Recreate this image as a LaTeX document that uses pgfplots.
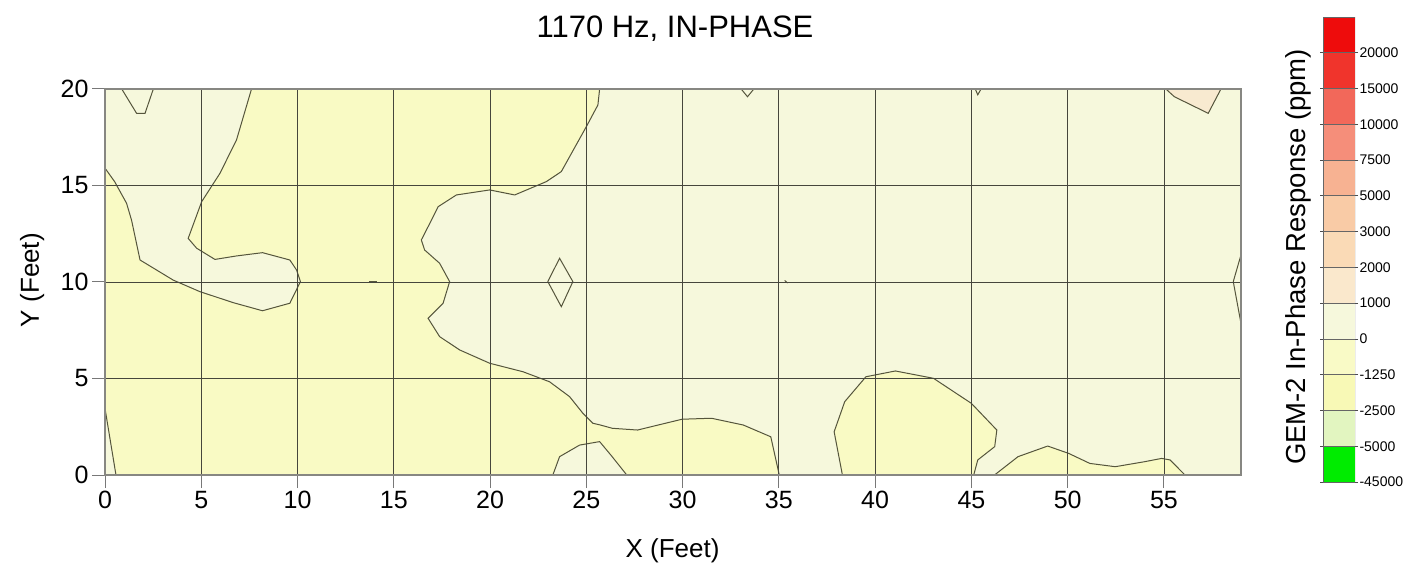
\documentclass[border=0pt]{standalone}
\usepackage{pgfplots}
\pgfplotsset{compat=1.18}
\usepackage{fontspec}
\setmainfont{Liberation Sans}
\definecolor{paleC}{RGB}{246,248,220}
\definecolor{yelC}{RGB}{249,250,196}
\definecolor{orgC}{RGB}{248,234,208}
\definecolor{gridC}{RGB}{70,70,60}
\definecolor{contC}{RGB}{85,85,60}
\definecolor{cb1}{RGB}{0,236,0}
\definecolor{cb2}{RGB}{226,245,192}
\definecolor{cb3}{RGB}{248,249,182}
\definecolor{cb4}{RGB}{249,250,198}
\definecolor{cb5}{RGB}{246,248,220}
\definecolor{cb6}{RGB}{250,232,204}
\definecolor{cb7}{RGB}{250,218,182}
\definecolor{cb8}{RGB}{249,203,166}
\definecolor{cb9}{RGB}{247,178,146}
\definecolor{cb10}{RGB}{245,142,122}
\definecolor{cb11}{RGB}{242,104,90}
\definecolor{cb12}{RGB}{240,52,44}
\definecolor{cb13}{RGB}{238,12,12}
\pgfplotsset{contour/.style={draw=contC, line width=1pt}}
\begin{document}
\begin{tikzpicture}[x=1pt,y=1pt]
\useasboundingbox (0,0) rectangle (1421,581);
\begin{axis}[
  at={(105pt,106pt)}, anchor=south west,
  scale only axis, width=1136pt, height=386pt,
  xmin=0, xmax=59, ymin=0, ymax=20,
  xtick={0,5,...,55}, ytick={0,5,...,20},
  grid=major, major grid style={draw=gridC, line width=0.9pt},
  axis line style={draw={rgb,255:red,135;green,135;blue,130}, line width=1.6pt},
  tick align=outside, major tick length=13pt, tick pos=left,
  tick style={draw={rgb,255:red,120;green,120;blue,120}, line width=1pt},
  axis on top,
  axis background/.style={fill=paleC},
  /pgf/number format/assume math mode=true,
  tick label style={font=\fontsize{25}{30}\selectfont},
  title={1170 Hz, IN-PHASE},
  title style={font=\fontsize{31}{36}\selectfont, at={(axis description cs:0.5018,1.1184)}, anchor=base},
  xlabel={X (Feet)},
  xlabel style={font=\fontsize{26}{31}\selectfont, at={(axis description cs:0.4996,-0.215)}, anchor=base},
  ylabel={Y (Feet)},
  ylabel style={font=\fontsize{26}{31}\selectfont, at={(axis description cs:-0.0581,0.505)}, anchor=base, rotate=0},
]
% yellow region (-1250 to 0 ppm)
\addplot[fill=yelC, draw=none] coordinates {
 (7.61,20) (25.69,20) (25.6,19.17) (25.0,18.05) (23.7,15.72) (22.92,15.2) (21.28,14.51) (19.98,14.77) (18.25,14.51) (17.3,13.9) (16.87,13.04) (16.43,12.18) (16.6,11.66) (17.38,10.97) (17.9,10.02) (17.56,8.9) (16.78,8.12) (17.38,7.17) (18.42,6.48) (19.98,5.79) (21.71,5.35) (23.09,4.83) (24.13,4.06) (24.82,3.2) (25.34,2.68) (25.69,2.6) (26.35,2.42) (27.66,2.33) (29.97,2.89) (31.5,2.94) (33.15,2.59) (34.58,1.98) (35.02,0)
 (0.57,0) (0,3.45) (0,15.9)
 (0.5,15.2) (1.12,14.08) (1.38,13.2) (1.82,11.14) (3.54,10.1) (4.93,9.5) (6.66,8.93) (8.18,8.51) (9.6,8.9) (10.15,10.02) (9.95,10.62) (9.6,11.14) (8.18,11.52) (6.83,11.35) (5.71,11.17) (4.76,11.75) (4.32,12.26) (5.02,14.16) (5.97,15.63) (6.83,17.36)
} -- cycle;
% pale island F
\addplot[fill=paleC, draw=none] coordinates {(23.26,0) (23.61,0.95) (24.65,1.55) (25.69,1.73) (26.3,1.0) (27.1,0)} -- cycle;
% yellow islands K, L
\addplot[fill=yelC, draw=none] coordinates {(38.3,0) (37.87,2.24) (38.42,3.8) (39.52,5.09) (41.05,5.39) (43.03,5.01) (45.0,3.71) (46.32,2.33) (46.21,1.47) (45.33,0.78) (45.12,0)} -- cycle;
\addplot[fill=yelC, draw=none] coordinates {(46.2,0) (47.42,0.95) (48.96,1.5) (50.05,1.12) (51.15,0.6) (52.47,0.43) (54.0,0.69) (54.88,0.86) (55.32,0.78) (56.09,0)} -- cycle;
% orange patch I
\addplot[fill=orgC, draw=none] coordinates {(55.1,20) (55.54,19.6) (57.3,18.74) (57.96,20)} -- cycle;
% contour lines
\addplot[contour] coordinates {(0.87,20) (1.64,18.74) (2.08,18.74) (2.51,20)};
\addplot[contour] coordinates {(0,15.9) (0.5,15.2) (1.12,14.08) (1.38,13.2) (1.82,11.14) (3.54,10.1) (4.93,9.5) (6.66,8.93) (8.18,8.51) (9.6,8.9) (10.15,10.02) (9.95,10.62) (9.6,11.14) (8.18,11.52) (6.83,11.35) (5.71,11.17) (4.76,11.75) (4.32,12.26) (5.02,14.16) (5.97,15.63) (6.83,17.36) (7.61,20)};
\addplot[contour] coordinates {(0,3.45) (0.57,0)};
\addplot[contour] coordinates {(25.69,20) (25.6,19.17) (25.0,18.05) (23.7,15.72) (22.92,15.2) (21.28,14.51) (19.98,14.77) (18.25,14.51) (17.3,13.9) (16.87,13.04) (16.43,12.18) (16.6,11.66) (17.38,10.97) (17.9,10.02) (17.56,8.9) (16.78,8.12) (17.38,7.17) (18.42,6.48) (19.98,5.79) (21.71,5.35) (23.09,4.83) (24.13,4.06) (24.82,3.2) (25.34,2.68) (25.69,2.6) (26.35,2.42) (27.66,2.33) (29.97,2.89) (31.5,2.94) (33.15,2.59) (34.58,1.98) (35.02,0)};
\addplot[contour] coordinates {(23.61,11.23) (24.3,10.02) (23.7,8.72) (23.0,10.02)} -- cycle;
\addplot[contour] coordinates {(23.26,0) (23.61,0.95) (24.65,1.55) (25.69,1.73) (26.3,1.0) (27.1,0)};
\addplot[contour] coordinates {(33.04,20) (33.37,19.6) (33.7,20)};
\addplot[contour] coordinates {(45.2,20) (45.33,19.7) (45.5,20)};
\addplot[contour] coordinates {(38.3,0) (37.87,2.24) (38.42,3.8) (39.52,5.09) (41.05,5.39) (43.03,5.01) (45.0,3.71) (46.32,2.33) (46.21,1.47) (45.33,0.78) (45.12,0)};
\addplot[contour] coordinates {(46.2,0) (47.42,0.95) (48.96,1.5) (50.05,1.12) (51.15,0.6) (52.47,0.43) (54.0,0.69) (54.88,0.86) (55.32,0.78) (56.09,0)};
\addplot[contour] coordinates {(55.1,20) (55.54,19.6) (57.3,18.74) (57.96,20)};
\addplot[contour] coordinates {(59,11.4) (58.6,10.02) (59,7.86)};
\addplot[contour] coordinates {(13.7,10.0) (14.15,10.0)};
\addplot[contour] coordinates {(35.3,10.08) (35.45,9.95)};
\end{axis}
\begin{axis}[
  at={(1323pt,99pt)}, anchor=south west,
  scale only axis, width=32pt, height=465pt,
  xmin=0, xmax=1, ymin=0, ymax=13,
  xtick=\empty, ytick={0,1,...,12},
  yticklabels={-45000,-5000,-2500,-1250,0,1000,2000,3000,5000,7500,10000,15000,20000},
  yticklabel pos=right,
  major tick length=3pt, tick align=outside,
  tick style={draw=black!70, line width=0.8pt},
  axis line style={draw=none},
  yticklabel style={font=\fontsize{14}{17}\selectfont, anchor=west, xshift=-2pt},
  ylabel={GEM-2 In-Phase Response (ppm)},
  ylabel style={font=\fontsize{27.5}{32}\selectfont, at={(axis description cs:-0.55,0.484)}, anchor=base},
]
\addplot[fill=cb1, draw=black!60, line width=0.8pt] coordinates {(0,0) (1,0) (1,1) (0,1)} -- cycle;
\addplot[fill=cb2, draw=black!60, line width=0.8pt] coordinates {(0,1) (1,1) (1,2) (0,2)} -- cycle;
\addplot[fill=cb3, draw=black!60, line width=0.8pt] coordinates {(0,2) (1,2) (1,3) (0,3)} -- cycle;
\addplot[fill=cb4, draw=black!60, line width=0.8pt] coordinates {(0,3) (1,3) (1,4) (0,4)} -- cycle;
\addplot[fill=cb5, draw=black!60, line width=0.8pt] coordinates {(0,4) (1,4) (1,5) (0,5)} -- cycle;
\addplot[fill=cb6, draw=black!60, line width=0.8pt] coordinates {(0,5) (1,5) (1,6) (0,6)} -- cycle;
\addplot[fill=cb7, draw=black!60, line width=0.8pt] coordinates {(0,6) (1,6) (1,7) (0,7)} -- cycle;
\addplot[fill=cb8, draw=black!60, line width=0.8pt] coordinates {(0,7) (1,7) (1,8) (0,8)} -- cycle;
\addplot[fill=cb9, draw=black!60, line width=0.8pt] coordinates {(0,8) (1,8) (1,9) (0,9)} -- cycle;
\addplot[fill=cb10, draw=black!60, line width=0.8pt] coordinates {(0,9) (1,9) (1,10) (0,10)} -- cycle;
\addplot[fill=cb11, draw=black!60, line width=0.8pt] coordinates {(0,10) (1,10) (1,11) (0,11)} -- cycle;
\addplot[fill=cb12, draw=black!60, line width=0.8pt] coordinates {(0,11) (1,11) (1,12) (0,12)} -- cycle;
\addplot[fill=cb13, draw=black!60, line width=0.8pt] coordinates {(0,12) (1,12) (1,13) (0,13)} -- cycle;
\end{axis}
\end{tikzpicture}
\end{document}
